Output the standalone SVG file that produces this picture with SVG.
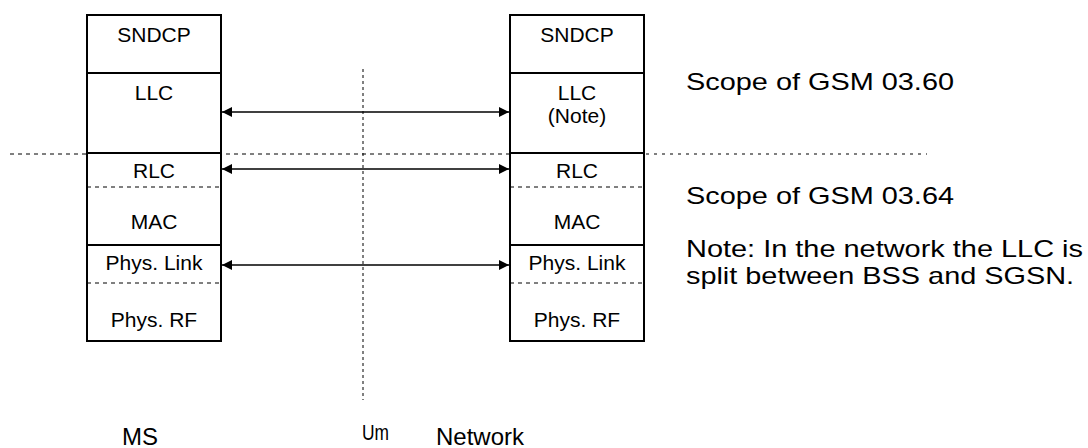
<svg xmlns="http://www.w3.org/2000/svg" width="1088" height="448" viewBox="0 0 1088 448">
<style>
.box{fill:#fff;stroke:#000;stroke-width:2}
.sep{stroke:#000;stroke-width:2}
.dsep{stroke:#000;stroke-width:1;stroke-dasharray:4,4}
.lbl{font-family:"Liberation Sans",Arial,sans-serif;font-size:21px;text-anchor:middle;fill:#000}
.big{font-family:"Liberation Sans",Arial,sans-serif;font-size:24px;fill:#000}
.conn{stroke:#000;stroke-width:1.5;fill:none;marker-start:url(#ah);marker-end:url(#ah)}
.dot{stroke:#000;stroke-width:1;stroke-dasharray:3,3;fill:none}
.dash{stroke:#000;stroke-width:1;stroke-dasharray:4,4;fill:none}
.fine{stroke:#000;stroke-width:1.2;stroke-dasharray:3,5;fill:none}
</style>
<defs>
<marker id="ah" viewBox="0 0 10 10" refX="10" refY="5" markerWidth="10" markerHeight="12" markerUnits="userSpaceOnUse" orient="auto-start-reverse">
<path d="M0,0 L10,5 L0,10 Z" fill="#000"/>
</marker>
</defs>
<g id="guides">
<line class="dot" x1="363" y1="69" x2="363" y2="400"/>
<line class="dash" x1="10" y1="154" x2="644" y2="154"/>
<line class="fine" x1="646" y1="154" x2="927" y2="154"/>
</g>
<g id="ms-stack">
<rect class="box" x="87" y="15" width="134" height="326"/>
<line class="sep" x1="87" y1="73" x2="221" y2="73"/>
<line class="sep" x1="87" y1="153" x2="221" y2="153"/>
<line class="dsep" x1="87" y1="187" x2="221" y2="187"/>
<line class="sep" x1="87" y1="245" x2="221" y2="245"/>
<line class="dsep" x1="87" y1="283" x2="221" y2="283"/>
<text class="lbl" x="154" y="42">SNDCP</text>
<text class="lbl" x="154" y="100">LLC</text>
<text class="lbl" x="154" y="178">RLC</text>
<text class="lbl" x="154" y="229">MAC</text>
<text class="lbl" x="154" y="270">Phys. Link</text>
<text class="lbl" x="154" y="327">Phys. RF</text>
</g>
<g id="network-stack">
<rect class="box" x="510" y="15" width="134" height="326"/>
<line class="sep" x1="510" y1="73" x2="644" y2="73"/>
<line class="sep" x1="510" y1="153" x2="644" y2="153"/>
<line class="dsep" x1="510" y1="187" x2="644" y2="187"/>
<line class="sep" x1="510" y1="245" x2="644" y2="245"/>
<line class="dsep" x1="510" y1="283" x2="644" y2="283"/>
<text class="lbl" x="577" y="42">SNDCP</text>
<text class="lbl" x="577" y="100">LLC</text>
<text class="lbl" x="577" y="123">(Note)</text>
<text class="lbl" x="577" y="178">RLC</text>
<text class="lbl" x="577" y="229">MAC</text>
<text class="lbl" x="577" y="270">Phys. Link</text>
<text class="lbl" x="577" y="327">Phys. RF</text>
</g>
<g id="connectors">
<line class="conn" x1="222" y1="112" x2="509" y2="112"/>
<line class="conn" x1="222" y1="169" x2="509" y2="169"/>
<line class="conn" x1="222" y1="265" x2="509" y2="265"/>
</g>
<g id="annotations">
<text class="big" x="686" y="90" textLength="268" lengthAdjust="spacingAndGlyphs">Scope of GSM 03.60</text>
<text class="big" x="686" y="204" textLength="268" lengthAdjust="spacingAndGlyphs">Scope of GSM 03.64</text>
<text class="big" x="686" y="257" textLength="397" lengthAdjust="spacingAndGlyphs">Note: In the network the LLC is</text>
<text class="big" x="686" y="284" textLength="388" lengthAdjust="spacingAndGlyphs">split between BSS and SGSN.</text>
<text class="big" x="140" y="445" text-anchor="middle">MS</text>
<text class="big" x="362" y="440" style="font-size:22px" textLength="27" lengthAdjust="spacingAndGlyphs">Um</text>
<text class="big" x="480" y="445" text-anchor="middle">Network</text>
</g>
</svg>
